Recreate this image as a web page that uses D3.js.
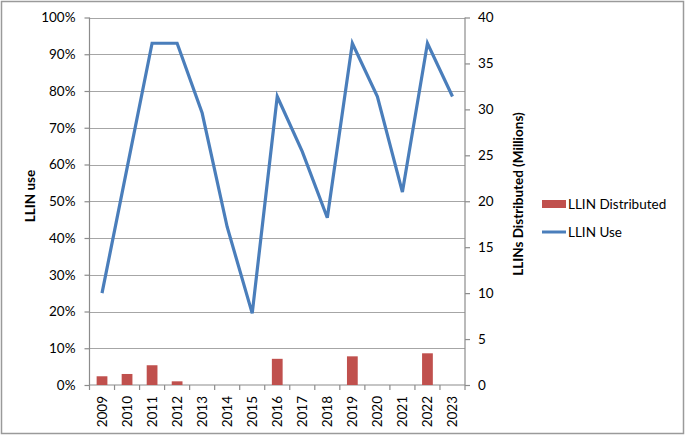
<!DOCTYPE html>
<html>
<head>
<meta charset="utf-8">
<script src="https://cdn.jsdelivr.net/npm/d3@7"></script>
<style>
  body { margin: 0; background: #fff; }
  text { font-family: Lato, "Open Sans", sans-serif; fill: #000; }
</style>
</head>
<body>
<div id="chart"></div>
<script>
  // chart data
  var years = ["2009","2010","2011","2012","2013","2014","2015","2016","2017","2018","2019","2020","2021","2022","2023"];
  var llinUse = [0.25, 0.59, 0.93, 0.93, 0.74, 0.43, 0.195, 0.785, 0.635, 0.455, 0.93, 0.785, 0.525, 0.93, 0.785];
  var llinDistributed = [0.95, 1.2, 2.15, 0.4, 0, 0, 0, 2.85, 0, 0, 3.12, 0, 0, 3.45, 0];
  var leftTicks = [0, 0.1, 0.2, 0.3, 0.4, 0.5, 0.6, 0.7, 0.8, 0.9, 1.0];
  var rightTicks = [0, 5, 10, 15, 20, 25, 30, 35, 40];

  var width = 685;
  var height = 435;
  var plot = {left: 89.5, right: 465, top: 17.5, bottom: 385};

  var svg = d3.select("#chart").append("svg")
    .attr("width", width)
    .attr("height", height);

  // outer border
  svg.append("rect")
    .attr("x", 1.5).attr("y", 1.5)
    .attr("width", width - 3).attr("height", height - 3)
    .attr("fill", "none").attr("stroke", "#9a9a9a").attr("stroke-width", 1.5);

  var x = d3.scaleBand().domain(years).range([plot.left, plot.right]);
  var yL = d3.scaleLinear().domain([0, 1]).range([plot.bottom, plot.top]);
  var yR = d3.scaleLinear().domain([0, 40]).range([plot.bottom, plot.top]);

  //gridlines
  svg.append("g").selectAll("line")
    .data(leftTicks.slice(1))
    .enter().append("line")
    .attr("x1", plot.left).attr("x2", plot.right)
    .attr("y1", function(d) { return Math.round(yL(d)) + 0.5; })
    .attr("y2", function(d) { return Math.round(yL(d)) + 0.5; })
    .attr("stroke", "#a6a6a6").attr("stroke-width", 1.2);

  // left axis
  var leftAxis = svg.append("g")
    .attr("transform", "translate(" + plot.left + ",0)")
    .call(d3.axisLeft(yL).tickValues(leftTicks).tickFormat(d3.format(".0%")).tickSize(5).tickPadding(9));
  // right axis
  var rightAxis = svg.append("g")
    .attr("transform", "translate(" + plot.right + ",0)")
    .call(d3.axisRight(yR).tickValues(rightTicks).tickSize(5).tickPadding(8));

  [leftAxis, rightAxis].forEach(function(a) {
    a.select(".domain").attr("stroke", "#8c8c8c").attr("stroke-width", 1.2)
      .attr("d", "M0," + plot.top + "V" + plot.bottom);
    a.selectAll(".tick line").attr("stroke", "#8c8c8c").attr("stroke-width", 1.2);
    a.selectAll("text").style("font-size", "13.5px").style("font-family", "Lato, sans-serif");
  });

  // bottom axis line and ticks between categories
  svg.append("line")
    .attr("x1", plot.left).attr("x2", plot.right)
    .attr("y1", plot.bottom).attr("y2", plot.bottom)
    .attr("stroke", "#8c8c8c").attr("stroke-width", 1.2);
  svg.append("g").selectAll("line")
    .data(years.concat(["end"]))
    .enter().append("line")
    .attr("x1", function(d, i) { return plot.left + i * x.bandwidth(); })
    .attr("x2", function(d, i) { return plot.left + i * x.bandwidth(); })
    .attr("y1", plot.bottom).attr("y2", plot.bottom + 5)
    .attr("stroke", "#8c8c8c").attr("stroke-width", 1.2);

  svg.append("g").selectAll("text")
    .data(years)
    .enter().append("text")
    .attr("transform", function(d) {
      return "translate(" + (x(d) + x.bandwidth() / 2 + 5) + "," + (plot.bottom + 11) + ") rotate(-90)";
    })
    .attr("text-anchor", "end")
    .style("font-size", "13.5px")
    .text(function(d) { return d; });

  // bars
  var barW = x.bandwidth() * 0.43;
  svg.append("g").selectAll("rect")
    .data(years)
    .enter().append("rect")
    .attr("x", function(d) { return x(d) + (x.bandwidth() - barW) / 2; })
    .attr("y", function(d, i) { return yR(llinDistributed[i]); })
    .attr("width", barW)
    .attr("height", function(d, i) { return plot.bottom - yR(llinDistributed[i]); })
    .attr("fill", "#c0504d");

  // use line
  var line = d3.line()
    .x(function(d, i) { return x(years[i]) + x.bandwidth() / 2; })
    .y(function(d) { return yL(d); });
  svg.append("path")
    .datum(llinUse)
    .attr("d", line)
    .attr("fill", "none")
    .attr("stroke", "#4a7ebb")
    .attr("stroke-width", 3.2)
    .attr("stroke-linejoin", "miter");

  // axis titles
  svg.append("text")
    .attr("transform", "translate(35," + 196 + ") rotate(-90)")
    .attr("text-anchor", "middle")
    .style("font-size", "13.5px").style("font-weight", "bold")
    .text("LLIN use");
  svg.append("text")
    .attr("transform", "translate(523," + 194 + ") rotate(-90)")
    .attr("text-anchor", "middle")
    .style("font-size", "13.5px").style("font-weight", "bold")
    .text("LLINs Distributed (Millions)");

  // legend
  var legend = svg.append("g");
  legend.append("rect")
    .attr("x", 542).attr("y", 200).attr("width", 24).attr("height", 8)
    .attr("fill", "#c0504d");
  legend.append("text")
    .attr("x", 568).attr("y", 209)
    .style("font-size", "13.5px")
    .text("LLIN Distributed");
  legend.append("line")
    .attr("x1", 542).attr("x2", 566).attr("y1", 232).attr("y2", 232)
    .attr("stroke", "#4a7ebb").attr("stroke-width", 3);
  legend.append("text")
    .attr("x", 568).attr("y", 237)
    .style("font-size", "13.5px")
    .text("LLIN Use");
</script>
</body>
</html>
